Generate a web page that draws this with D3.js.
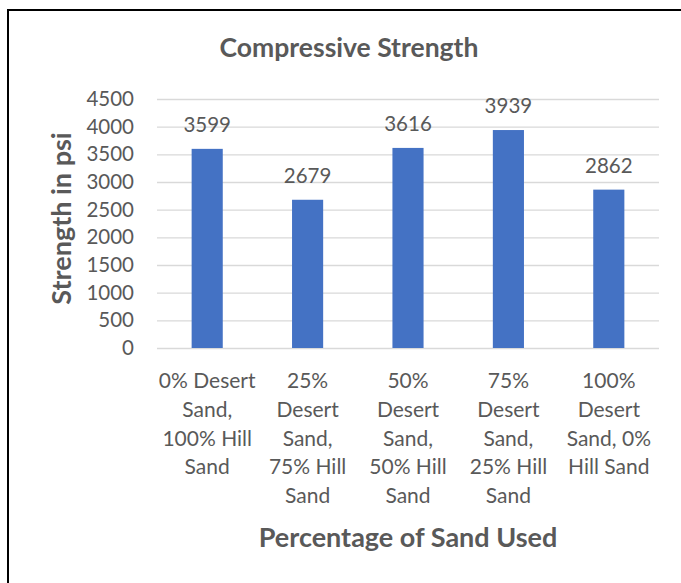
<!DOCTYPE html>
<html>
<head>
<meta charset="utf-8">
<script src="https://cdn.jsdelivr.net/npm/d3@7"></script>
<style>
  body { margin: 0; background: #fff; }
  text { font-family: Lato, "Open Sans", sans-serif; fill: #595959; }
</style>
</head>
<body>
<div id="chart"></div>
<script>
// data
var categories = [
  ["0% Desert", "Sand,", "100% Hill", "Sand"],
  ["25%", "Desert", "Sand,", "75% Hill", "Sand"],
  ["50%", "Desert", "Sand,", "50% Hill", "Sand"],
  ["75%", "Desert", "Sand,", "25% Hill", "Sand"],
  ["100%", "Desert", "Sand, 0%", "Hill Sand"]
];
var strengths = [3599, 2679, 3616, 3939, 2862];
var yTicks = [0, 500, 1000, 1500, 2000, 2500, 3000, 3500, 4000, 4500];

var svgWidth = 681;
var svgHeight = 583;
var margin = {top: 99, right: 22, bottom: 235, left: 157};
var width = svgWidth - margin.left - margin.right;
var height = svgHeight - margin.top - margin.bottom;

var svg = d3.select("#chart").append("svg")
  .attr("width", svgWidth)
  .attr("height", svgHeight);

// border (top + left only)
svg.append("line").attr("x1", 7).attr("x2", svgWidth).attr("y1", 10).attr("y2", 10)
  .attr("stroke", "#000").attr("stroke-width", 2);
svg.append("line").attr("x1", 8).attr("x2", 8).attr("y1", 9).attr("y2", svgHeight)
  .attr("stroke", "#000").attr("stroke-width", 2);

var g = svg.append("g")
  .attr("transform", "translate(" + margin.left + "," + margin.top + ")");

var x = d3.scaleBand()
  .domain(d3.range(strengths.length))
  .range([0, width])
  .paddingInner(0.69)
  .paddingOuter(0.345);

var y = d3.scaleLinear()
  .domain([0, 4500])
  .range([height, 0]);

// gridlines
g.selectAll(".grid")
  .data(yTicks)
  .enter().append("line")
  .attr("x1", 0).attr("x2", width)
  .attr("y1", function(d) { return y(d) + 0.5; })
  .attr("y2", function(d) { return y(d) + 0.5; })
  .attr("stroke", "#d9d9d9")
  .attr("stroke-width", 1.3);

// y axis labels
var yAxis = d3.axisLeft(y).tickValues(yTicks).tickFormat(d3.format("d")).tickSize(0).tickPadding(23);
var gY = g.append("g").call(yAxis);
gY.select(".domain").remove();
gY.selectAll("text").style("font-size", "20.5px").attr("fill", "#595959")
  .style("font-family", "Lato, 'Open Sans', sans-serif");

// bars
g.selectAll(".bar")
  .data(strengths)
  .enter().append("rect")
  .attr("x", function(d, i) { return x(i); })
  .attr("y", function(d) { return y(d); })
  .attr("width", x.bandwidth())
  .attr("height", function(d) { return height - y(d); })
  .attr("fill", "#4472C4");

// value labels
g.selectAll(".val")
  .data(strengths)
  .enter().append("text")
  .attr("x", function(d, i) { return x(i) + x.bandwidth() / 2; })
  .attr("y", function(d) { return y(d) - 17; })
  .attr("text-anchor", "middle")
  .style("font-size", "20.5px")
  .text(function(d) { return d; });

// category labels
var catG = g.selectAll(".cat")
  .data(categories)
  .enter().append("text")
  .attr("text-anchor", "middle")
  .attr("transform", function(d, i) {
    return "translate(" + (x(i) + x.bandwidth() / 2) + "," + (height + 40) + ")";
  })
  .style("font-size", "21px");
catG.selectAll("tspan")
  .data(function(d) { return d; })
  .enter().append("tspan")
  .attr("x", 0)
  .attr("y", function(d, j) { return j * 28.8; })
  .text(function(d) { return d; });

// title
svg.append("text")
  .attr("x", 349).attr("y", 57)
  .attr("text-anchor", "middle")
  .style("font-size", "26.5px").style("font-weight", "bold")
  .text("Compressive Strength");

// axis titles
svg.append("text")
  .attr("x", margin.left + width / 2).attr("y", 547)
  .attr("text-anchor", "middle")
  .style("font-size", "27px").style("font-weight", "bold")
  .text("Percentage of Sand Used");

svg.append("text")
  .attr("transform", "translate(71," + (margin.top + height / 2 - 5) + ") rotate(-90)")
  .attr("text-anchor", "middle")
  .style("font-size", "27px").style("font-weight", "bold")
  .text("Strength in psi");
</script>
</body>
</html>
